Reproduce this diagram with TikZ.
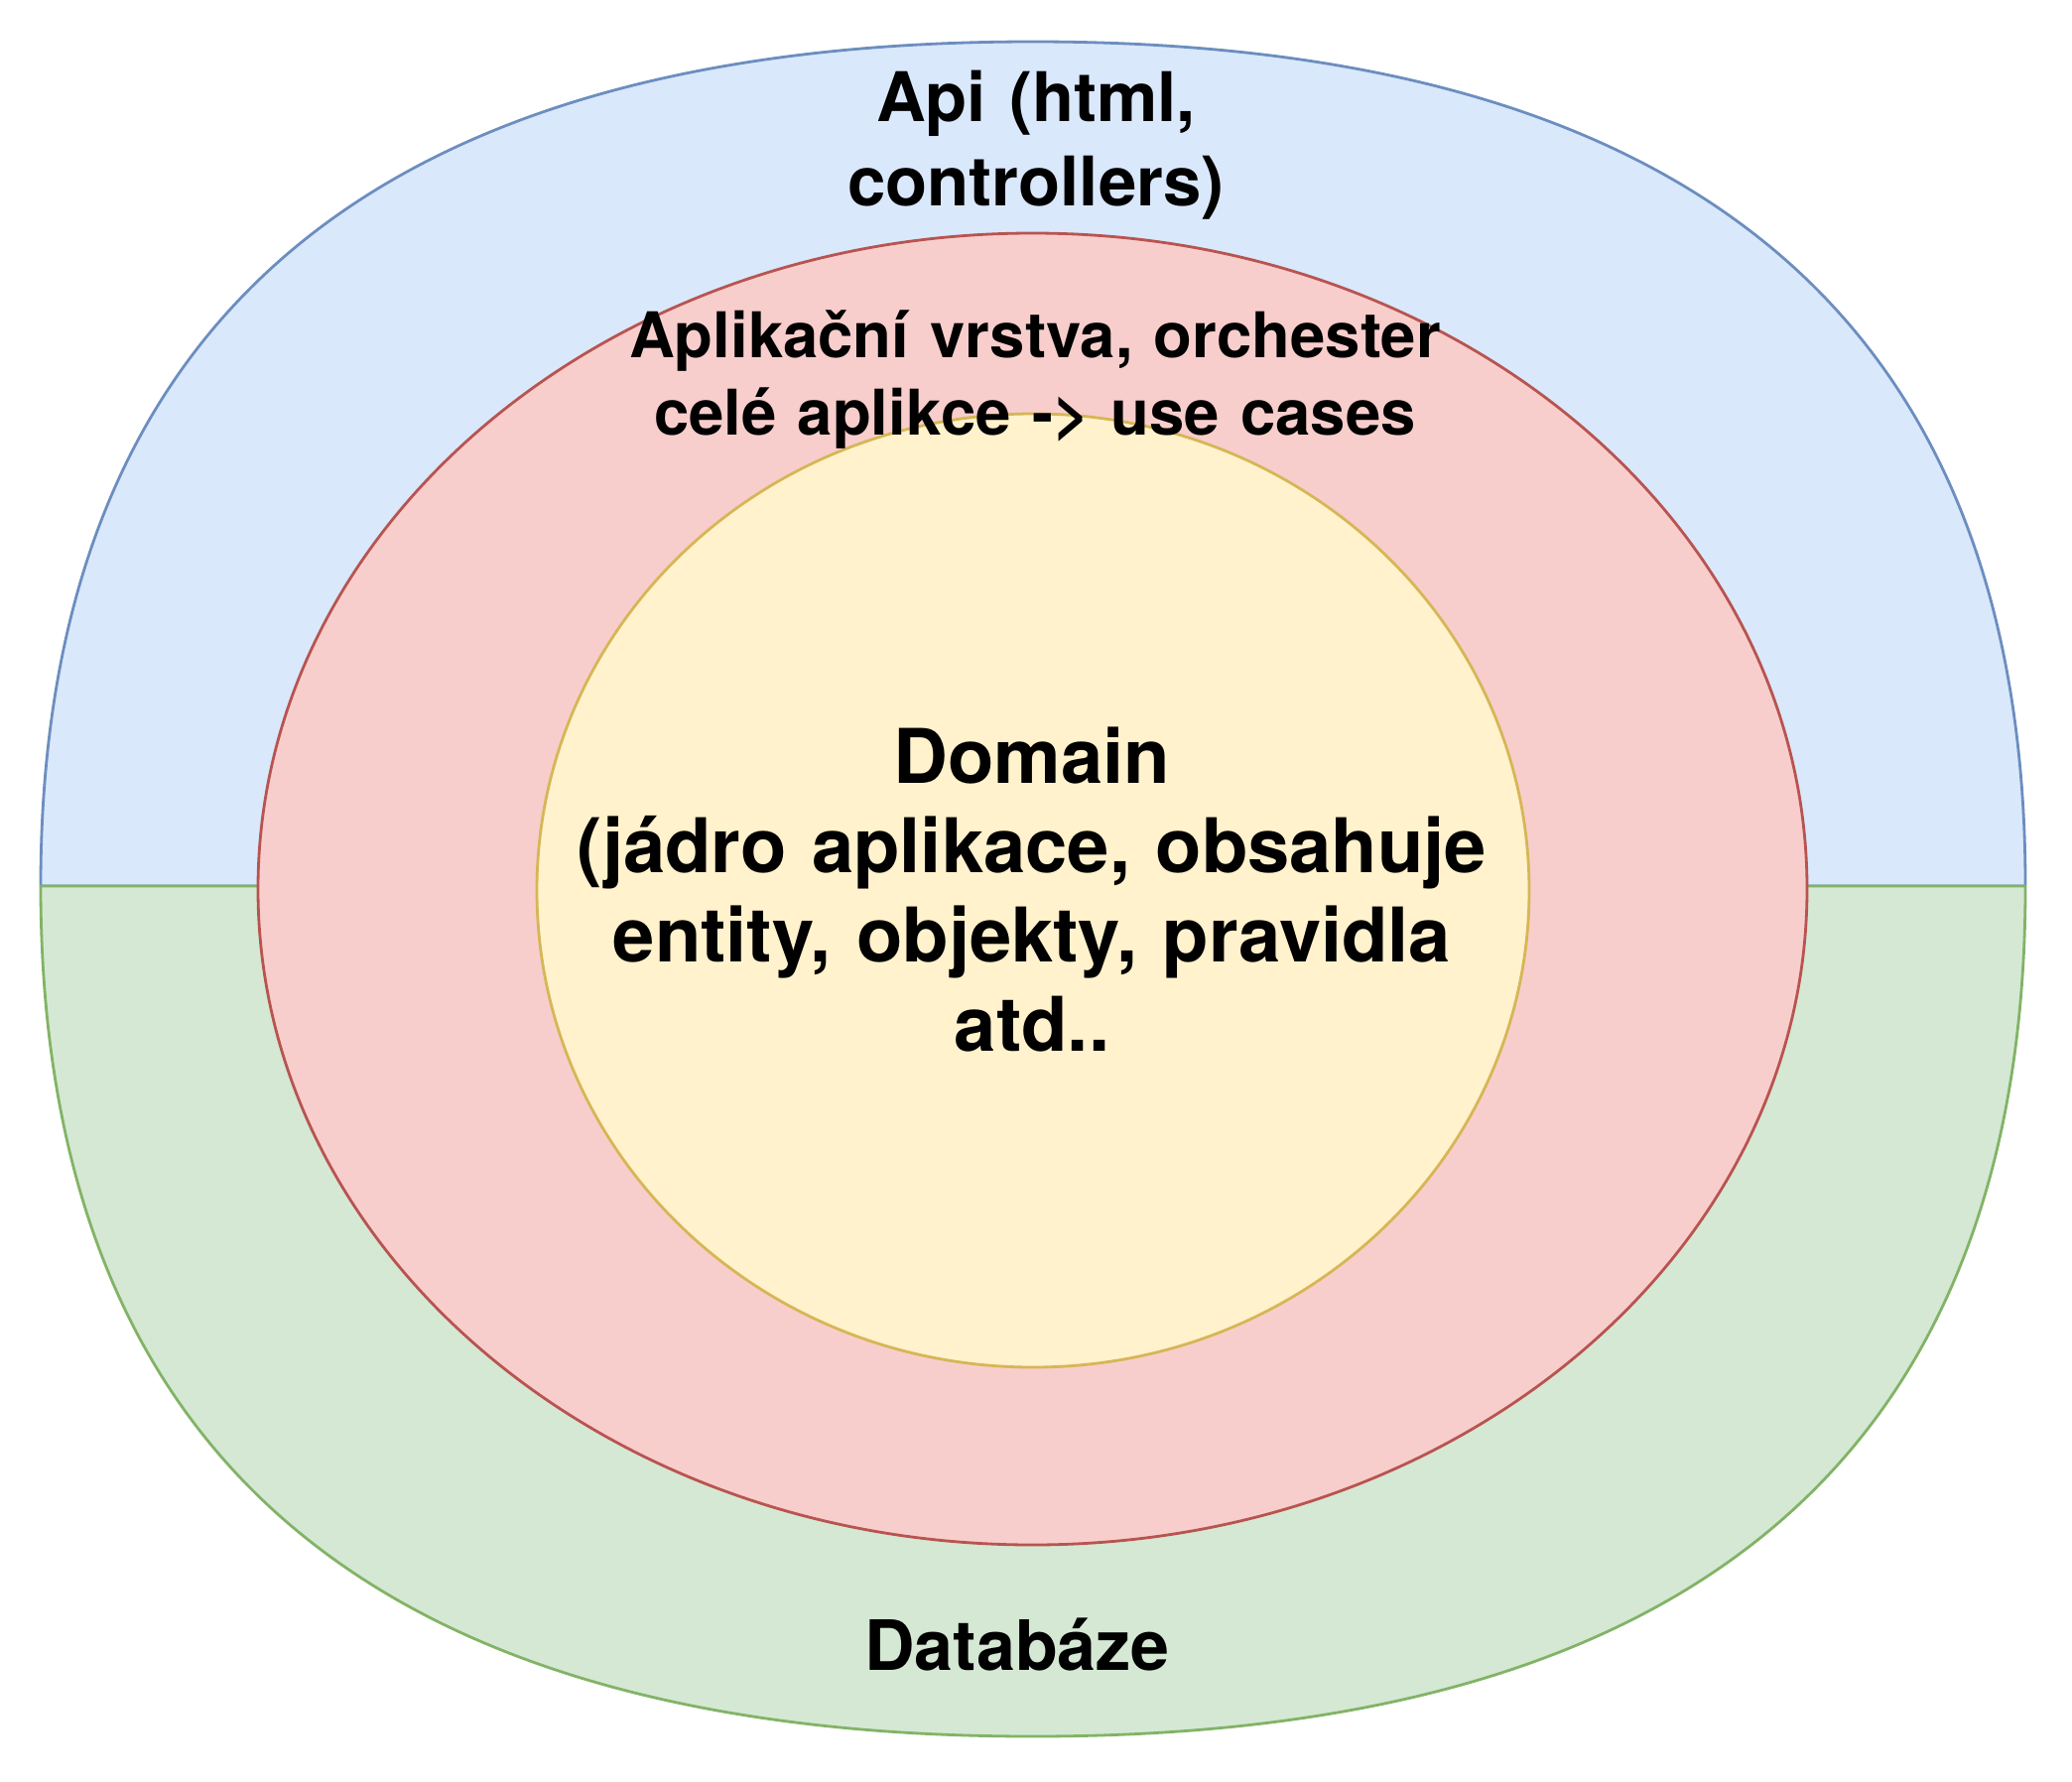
\documentclass[tikz,border=0pt]{standalone}
\usepackage{fontspec}
\setmainfont{TeX Gyre Heros}
\definecolor{apifill}{HTML}{DAE8FC}
\definecolor{apiline}{HTML}{6C8EBF}
\definecolor{dbfill}{HTML}{D5E8D4}
\definecolor{dbline}{HTML}{82B366}
\definecolor{appfill}{HTML}{F8CECC}
\definecolor{appline}{HTML}{B85450}
\definecolor{domfill}{HTML}{FFF2CC}
\definecolor{domline}{HTML}{D6B656}
\tikzset{
  layer/.style={line width=2.8pt, line join=round},
  lbl/.style={inner sep=0pt, outer sep=0pt, anchor=base, text width=1400pt, align=center, font=\bfseries},
}
\begin{document}
\begin{tikzpicture}[x=1pt,y=-1pt]
\useasboundingbox (0,0) rectangle (2088,1796);
% outer top half (Api)
\path[layer, fill=apifill, draw=apiline]
  (41,893) .. controls (41,325.7) and (374.3,42) .. (1041,42)
  .. controls (1707.7,42) and (2041,325.7) .. (2041,893) -- cycle;
% outer bottom half (Databaze)
\path[layer, fill=dbfill, draw=dbline]
  (41,893) -- (2041,893)
  .. controls (2041,1464.3) and (1707.7,1750) .. (1041,1750)
  .. controls (374.3,1750) and (41,1464.3) .. (41,893) -- cycle;
% application layer
\path[layer, fill=appfill, draw=appline] (1040.5,896) ellipse [x radius=780.5pt, y radius=661pt];
% domain
\path[layer, fill=domfill, draw=domline] (1041,897.5) ellipse [x radius=500pt, y radius=480.5pt];
% texts
\node[lbl, font=\bfseries\fontsize{69}{85}\selectfont] (api) at (1044,122) {Api (html,\\controllers)};
\node[lbl, font=\bfseries\fontsize{63.5}{78}\selectfont] (app) at (1043,360) {Aplikační vrstva, orchester\\celé aplikce -> use cases};
\node[lbl, font=\bfseries\fontsize{76}{90}\selectfont] (dom) at (1040,789) {Domain\\(jádro aplikace, obsahuje\\entity, objekty, pravidla\\atd..};
\node[lbl, font=\bfseries\fontsize{70}{84}\selectfont] (db) at (1025,1683) {Databáze};
\end{tikzpicture}
\end{document}
